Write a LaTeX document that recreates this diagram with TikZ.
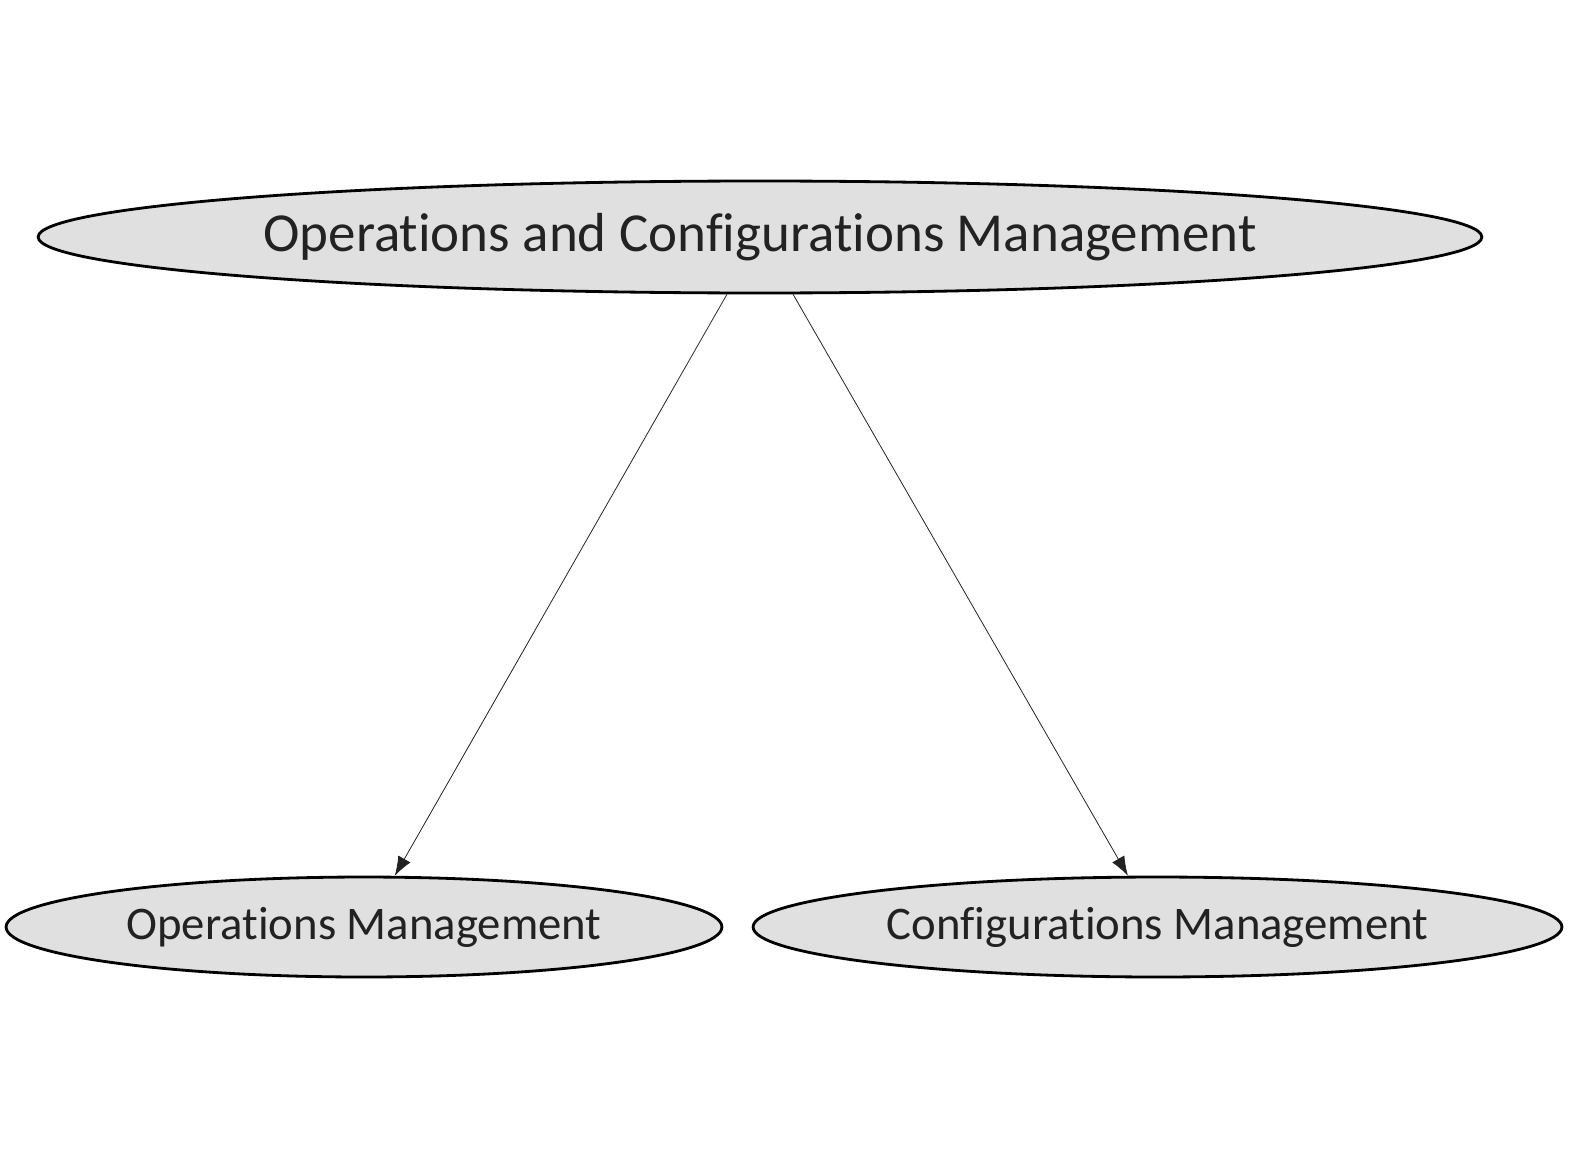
\documentclass[tikz,border=0pt]{standalone}
\usepackage{fontspec}
\setmainfont{Carlito}[Ligatures=NoCommon]
\usetikzlibrary{shapes.geometric,arrows.meta}

\definecolor{bubblefill}{HTML}{E0E0E0}
\definecolor{inkgray}{HTML}{222222}

\tikzset{
    bubble/.style={ellipse, draw=black, line width=1.6pt, fill=bubblefill,
        text=inkgray, inner sep=0pt},
    link/.style={draw=inkgray, line width=0.45pt, -{Latex[length=11pt,width=8pt]}},
}

\begin{document}
\begin{tikzpicture}[x=0.02cm, y=-0.02cm]
\useasboundingbox (0,0) rectangle (1577,1152);

% parent
\node[bubble, minimum width=28.88cm, minimum height=2.24cm,
      font=\fontsize{31.3}{37}\selectfont] (ocm) at (760,237)
      {Operations and Configurations Management};

% children
\node[bubble, minimum width=14.32cm, minimum height=2cm,
      font=\fontsize{26.6}{32}\selectfont] (om) at (364,927)
      {Operations Management};
\node[bubble, minimum width=16.18cm, minimum height=2cm,
      font=\fontsize{26.6}{32}\selectfont] (cm) at (1157.5,927)
      {Configurations Management};

\draw[link] (ocm.240) -- (om.59);
\draw[link] (ocm.300) -- (cm.120);

\end{tikzpicture}
\end{document}
